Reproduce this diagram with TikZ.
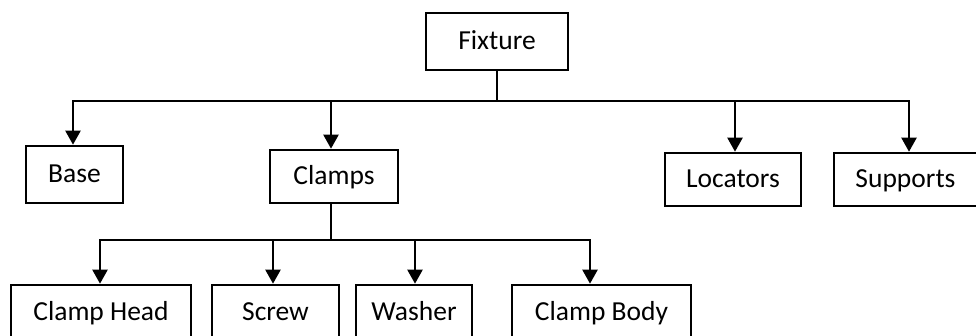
\documentclass[tikz,border=0pt]{standalone}
\usepackage{fontspec}
\setmainfont{Carlito}
\usetikzlibrary{arrows.meta}
\begin{document}
\begin{tikzpicture}[x=1pt,y=-1pt,
  box/.style={draw=black,line width=2.6pt,inner sep=0pt,minimum height=55pt,font=\fontsize{27.5}{30}\selectfont,text height=18pt,text depth=2pt,anchor=center},
  conn/.style={draw=black,line width=2.2pt},
  arr/.style={conn,-{Triangle[length=14pt,width=15pt]}}]
\useasboundingbox (0,0) rectangle (976,336);
\node[box,minimum width=142pt,minimum height=57pt] (fixture) at (497,41.5) {Fixture};
\node[box,minimum width=97pt,minimum height=57pt] (base) at (74.5,174.5) {Base};
\node[box,minimum width=128pt,minimum height=53pt] (clamps) at (334,176.5) {Clamps};
\node[box,minimum width=136pt,minimum height=53pt] (locators) at (733,179.5) {Locators};
\node[box,minimum width=143pt,minimum height=53pt] (supports) at (905.5,179.5) {Supports};
\node[box,minimum width=180pt] (clamphead) at (101,312.5) {Clamp Head};
\node[box,minimum width=127pt] (screw) at (275.5,312.5) {Screw};
\node[box,minimum width=116pt] (washer) at (414,312.5) {Washer};
\node[box,minimum width=179pt] (clampbody) at (601.5,312.5) {Clamp Body};
% level 1
\draw[conn] (fixture.south) -- ++(0,30) coordinate (busa);
\draw[arr] (busa) -| ([xshift=-1.5pt]base.north);
\draw[arr] (busa) -| ([xshift=-3pt]clamps.north);
\draw[arr] (busa) -| ([xshift=2pt]locators.north);
\draw[arr] (busa) -| ([xshift=3.5pt]supports.north);
% level 2
\draw[conn] ([xshift=-3pt]clamps.south) -- ++(0,36) coordinate (busb);
\draw[arr] (busb) -| ([xshift=-1pt]clamphead.north);
\draw[arr] (busb) -| ([xshift=-2.5pt]screw.north);
\draw[arr] (busb) -| ([xshift=1pt]washer.north);
\draw[arr] (busb) -| ([xshift=-11.5pt]clampbody.north);
\end{tikzpicture}
\end{document}
